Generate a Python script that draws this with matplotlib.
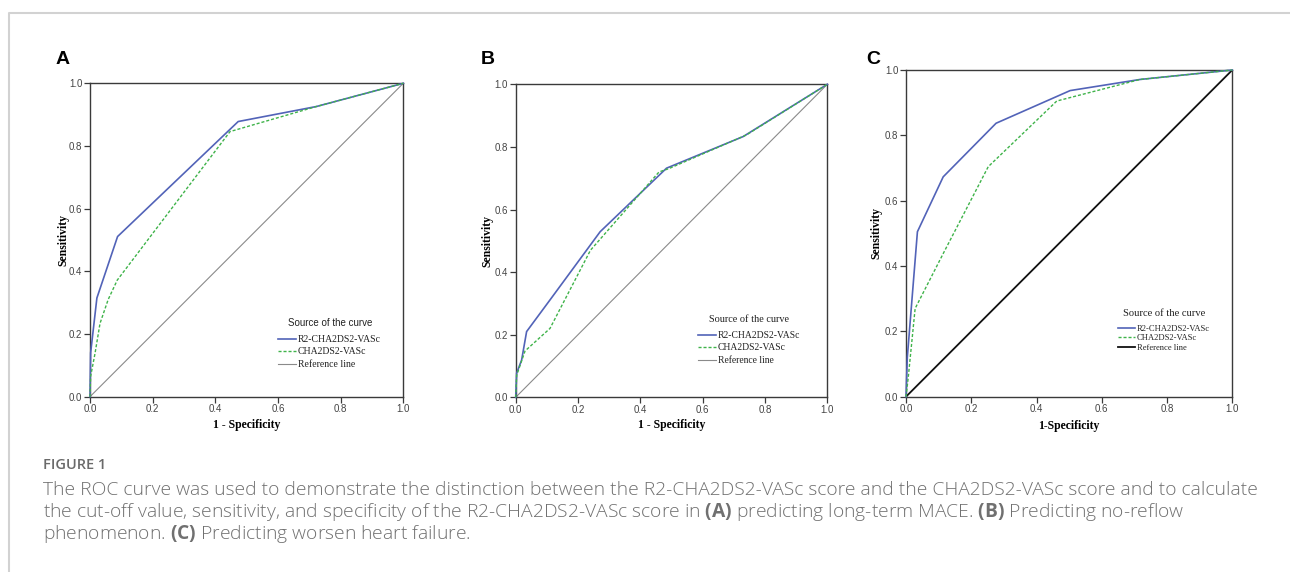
import matplotlib
matplotlib.use("Agg")
import matplotlib.pyplot as plt
from matplotlib.lines import Line2D
from matplotlib.font_manager import FontProperties

# ---------------- data ----------------
TICKS = [0.0, 0.2, 0.4, 0.6, 0.8, 1.0]
TICK_LABELS = ["0.0", "0.2", "0.4", "0.6", "0.8", "1.0"]
REF = [0.0, 1.0]
SERIES_NAMES = ["R2-CHA2DS2-VASc", "CHA2DS2-VASc", "Reference line"]
LEGEND_TITLE = "Source of the curve"
PANEL_LETTERS = ["A", "B", "C"]
XLABELS = ["1 - Specificity", "1 - Specificity", "1-Specificity"]
YLABEL = "Sensitivity"

# Panel A: long-term MACE
A_r2_fpr = [0.0, 0.002, 0.022, 0.088, 0.473, 0.723, 1.0]
A_r2_tpr = [0.0, 0.140, 0.315, 0.511, 0.878, 0.926, 1.0]
A_cha_fpr = [0.0, 0.002, 0.016, 0.032, 0.058, 0.087, 0.447, 0.723, 1.0]
A_cha_tpr = [0.0, 0.065, 0.138, 0.234, 0.310, 0.372, 0.846, 0.926, 1.0]

# Panel B: no-reflow
B_r2_fpr = [0.0, 0.003, 0.019, 0.035, 0.110, 0.271, 0.484, 0.730, 1.0]
B_r2_tpr = [0.0, 0.077, 0.119, 0.210, 0.311, 0.529, 0.732, 0.833, 1.0]
B_cha_fpr = [0.0, 0.003, 0.030, 0.110, 0.240, 0.460, 0.490, 0.740, 1.0]
B_cha_tpr = [0.0, 0.070, 0.148, 0.220, 0.470, 0.720, 0.730, 0.838, 1.0]

# Panel C: worsening heart failure
C_r2_fpr = [0.0, 0.004, 0.035, 0.114, 0.276, 0.503, 0.717, 1.0]
C_r2_tpr = [0.0, 0.120, 0.505, 0.673, 0.837, 0.937, 0.971, 1.0]
C_cha_fpr = [0.0, 0.007, 0.028, 0.115, 0.252, 0.462, 0.717, 1.0]
C_cha_tpr = [0.0, 0.060, 0.270, 0.440, 0.704, 0.905, 0.971, 1.0]

CAPTION_HEAD = "FIGURE 1"
CAPTION_LINES = [
    "The ROC curve was used to demonstrate the distinction between the R2-CHA2DS2-VASc score and the CHA2DS2-VASc score and to calculate",
    r"the cut-off value, sensitivity, and specificity of the R2-CHA2DS2-VASc score in $\mathbf{(A)}$ predicting long-term MACE. $\mathbf{(B)}$ Predicting no-reflow",
    r"phenomenon. $\mathbf{(C)}$ Predicting worsen heart failure.",
]

# ---------------- style ----------------
W, H = 1290, 572
BLUE = "#5263b8"
GREEN = "#3fb34a"
SPINE = "#3a3a3a"

plt.rcParams["mathtext.fontset"] = "custom"
plt.rcParams["mathtext.rm"] = "Open Sans"
plt.rcParams["mathtext.bf"] = "Open Sans:bold"

fig = plt.figure(figsize=(W / 100, H / 100), dpi=100)


def rect(l, t, r, b):
    return [l / W, 1 - b / H, (r - l) / W, (b - t) / H]


panels = [
    dict(rect=rect(90, 83.3, 403.3, 396.7), r2=(A_r2_fpr, A_r2_tpr), cha=(A_cha_fpr, A_cha_tpr),
         ref_color="#8a8a8a", ref_lw=0.8, leg_xy=(278, 335), leg_size=7.0, lsp=0.36,
         title_xy=(330, 323), title_size=7.0, title_family="Liberation Sans",
         hl=1.85, letter_xy=(56, 60), ylab_x=-0.085, xlab_y=-0.09),
    dict(rect=rect(515.7, 84.3, 827.3, 397.3), r2=(B_r2_fpr, B_r2_tpr), cha=(B_cha_fpr, B_cha_tpr),
         ref_color="#8a8a8a", ref_lw=0.8, leg_xy=(698, 331), leg_size=6.9, lsp=0.36,
         title_xy=(749, 320), title_size=7.4, title_family="Liberation Serif",
         hl=1.9, letter_xy=(481, 60), ylab_x=-0.09, xlab_y=-0.088),
    dict(rect=rect(906, 70, 1232.3, 396.7), r2=(C_r2_fpr, C_r2_tpr), cha=(C_cha_fpr, C_cha_tpr),
         ref_color="#111111", ref_lw=1.3, leg_xy=(1118, 325), leg_size=6.1, lsp=0.16,
         title_xy=(1164, 314), title_size=7.6, title_family="Liberation Serif",
         hl=2.0, letter_xy=(866, 59), ylab_x=-0.092, xlab_y=-0.09),
]

for i, p in enumerate(panels):
    ax = fig.add_axes(p["rect"])
    ax.plot(p["r2"][0], p["r2"][1], color=BLUE, lw=1.2, label=SERIES_NAMES[0], clip_on=False, zorder=3)
    ax.plot(p["cha"][0], p["cha"][1], color=GREEN, lw=1.0, ls=(0, (2.2, 1.4)),
            label=SERIES_NAMES[1], clip_on=False, zorder=4)
    ax.plot(REF, REF, color=p["ref_color"], lw=p["ref_lw"], label=SERIES_NAMES[2], zorder=2)
    ax.set_xlim(0, 1)
    ax.set_ylim(0, 1)
    ax.set_xticks(TICKS)
    ax.set_xticklabels(TICK_LABELS)
    ax.set_yticks(TICKS)
    ax.set_yticklabels(TICK_LABELS)
    for lab in ax.get_xticklabels() + ax.get_yticklabels():
        lab.set_family("Liberation Sans")
    ax.tick_params(direction="out", length=4, width=0.9, color=SPINE, labelsize=7,
                   labelcolor="#444444", pad=1.5)
    for s in ax.spines.values():
        s.set_color(SPINE)
        s.set_linewidth(1.0)

    ax.set_ylabel(YLABEL, family="Liberation Serif", weight="bold", fontsize=8.5)
    ax.yaxis.label.set_va("center")
    ax.yaxis.set_label_coords(p["ylab_x"], 0.5)
    ax.set_xlabel(XLABELS[i], family="Liberation Serif", weight="bold", fontsize=8.5)
    ax.xaxis.label.set_va("center")
    ax.xaxis.set_label_coords(0.5, p["xlab_y"])

    leg = ax.legend(loc="upper left", bbox_to_anchor=(p["leg_xy"][0] / W, 1 - p["leg_xy"][1] / H),
                    bbox_transform=fig.transFigure, frameon=False,
                    prop=FontProperties(family="Liberation Serif", size=p["leg_size"]),
                    handlelength=p["hl"], handletextpad=0.2, labelspacing=p["lsp"],
                    borderpad=0, borderaxespad=0)
    for t in leg.get_texts():
        t.set_color("#222222")
    fig.text(p["title_xy"][0] / W, 1 - p["title_xy"][1] / H, LEGEND_TITLE,
             family=p["title_family"], fontsize=p["title_size"], color="#222222",
             ha="center", va="center")

    fig.text(p["letter_xy"][0] / W, 1 - p["letter_xy"][1] / H, PANEL_LETTERS[i],
             family="Liberation Sans", weight="bold", fontsize=14, ha="left", va="center")

# frame (light grey border of the figure box)
fig.add_artist(Line2D([9 / W, 9 / W, 1.0], [0.0, 1 - 13 / H, 1 - 13 / H],
                      transform=fig.transFigure, color="#d2d2d2", lw=1.5))

# caption
fig.text(43 / W, 1 - 465 / H, CAPTION_HEAD, family="Open Sans", weight="semibold",
         fontsize=10.5, color="#6a6a6a", ha="left", va="center")

# fit caption size so that the first line spans the reference width
renderer = fig.canvas.get_renderer()
probe = fig.text(0, 0, CAPTION_LINES[0], family="Open Sans", weight="light", fontsize=10)
w10 = probe.get_window_extent(renderer).width
probe.remove()
cap_size = 10 * (1254 - 43) / w10

for k, line in enumerate(CAPTION_LINES):
    fig.text(43 / W, 1 - (490 + 22 * k) / H, line, family="Open Sans", weight="light",
             fontsize=cap_size, color="#707070", ha="left", va="center")

fig.savefig("out.png", dpi=100)
